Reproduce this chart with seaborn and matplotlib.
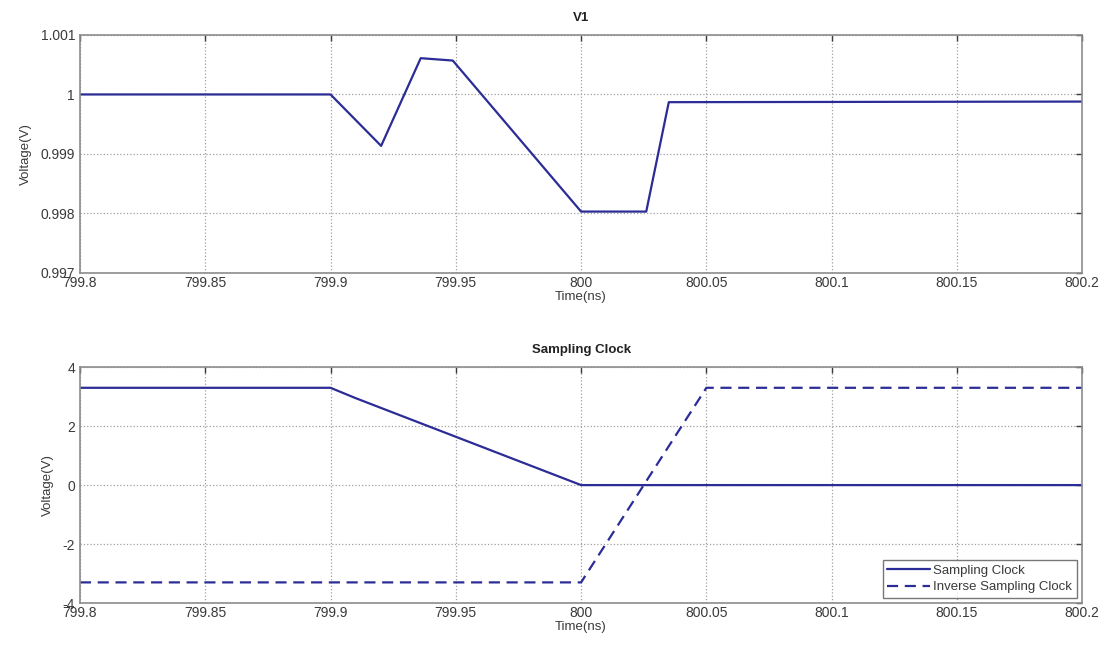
import numpy as np
import pandas as pd
import matplotlib
matplotlib.use("Agg")
import matplotlib.pyplot as plt
import seaborn as sns

# V1 waveform
v1_time = [799.8, 799.9, 799.9202, 799.936, 799.9488, 800.0, 800.026, 800.035, 800.2]
v1_volt = [1.0, 1.0, 0.999135, 1.00061, 1.00057, 0.99803, 0.99803, 0.99987, 0.99988]

# sampling clock
clk_time = [799.8, 799.9, 799.91, 800.0, 800.2]
clk_volt = [3.3, 3.3, 2.95, 0.0, 0.0]

# inverse sampling clock
inv_time = [799.8, 800.0, 800.05, 800.2]
inv_volt = [-3.3, -3.3, 3.3, 3.3]

xticks = [799.8, 799.85, 799.9, 799.95, 800.0, 800.05, 800.1, 800.15, 800.2]
xtick_labels = ["799.8", "799.85", "799.9", "799.95", "800", "800.05", "800.1", "800.15", "800.2"]

sns.set_style("white")
plt.rcParams['font.family'] = ['Liberation Sans', 'DejaVu Sans']

line_color = "#2c2c96"
text_color = "#3a3a3a"
frame_color = "#8c8c8c"

fig = plt.figure(figsize=(11.1, 6.48), dpi=100)
ax1 = fig.add_axes([0.072, 0.579, 0.903, 0.367])
ax2 = fig.add_axes([0.072, 0.0694, 0.903, 0.364])

df_v1 = pd.DataFrame({"time": v1_time, "volt": v1_volt})
sns.lineplot(data=df_v1, x="time", y="volt", ax=ax1, color=line_color, lw=1.6)

df_clk = pd.DataFrame({"time": clk_time, "volt": clk_volt})
df_inv = pd.DataFrame({"time": inv_time, "volt": inv_volt})
sns.lineplot(data=df_clk, x="time", y="volt", ax=ax2, color=line_color, lw=1.6,
             label="Sampling Clock")
sns.lineplot(data=df_inv, x="time", y="volt", ax=ax2, color=line_color, lw=1.6,
             linestyle=(0, (5, 3)), label="Inverse Sampling Clock")

ax1.set_ylim(0.997, 1.001)
ax1.set_yticks([0.997, 0.998, 0.999, 1.0, 1.001])
ax1.set_yticklabels(["0.997", "0.998", "0.999", "1", "1.001"])
ax1.set_title("V1", fontsize=9.5, fontweight="bold", color="#222222", pad=10)

ax2.set_ylim(-4, 4)
ax2.set_yticks([-4, -2, 0, 2, 4])
ax2.set_yticklabels(["-4", "-2", "0", "2", "4"])
ax2.set_title("Sampling Clock", fontsize=9.5, fontweight="bold", color="#222222", pad=10)

for ax in (ax1, ax2):
    ax.set_xlim(799.8, 800.2)
    ax.set_xticks(xticks)
    ax.set_xticklabels(xtick_labels)
    ax.set_xlabel("Time(ns)", fontsize=9.5, color=text_color, labelpad=1)
    ax.set_ylabel("Voltage(V)", fontsize=9.5, color=text_color, labelpad=6)
    ax.grid(True, linestyle=":", color="#a0a0a0", lw=0.9)
    ax.tick_params(axis="both", labelsize=10, colors=text_color, direction="in",
                   length=4, width=1, top=True, right=True, labeltop=False, labelright=False)
    ax.tick_params(axis="x", pad=2)
    for tl in ax.get_xticklabels() + ax.get_yticklabels():
        tl.set_color(text_color)
    for sp in ax.spines.values():
        sp.set_visible(True)
        sp.set_color(frame_color)
        sp.set_linewidth(1.2)

leg = ax2.legend(loc="lower right", fontsize=9.5, frameon=True, fancybox=False,
                 edgecolor="#555555", handlelength=3.2, handletextpad=0.3,
                 borderpad=0.35, labelspacing=0.3, borderaxespad=0.4)
leg.get_frame().set_linewidth(1.0)
for t in leg.get_texts():
    t.set_color(text_color)

fig.savefig("out.png", dpi=100, facecolor="white")
